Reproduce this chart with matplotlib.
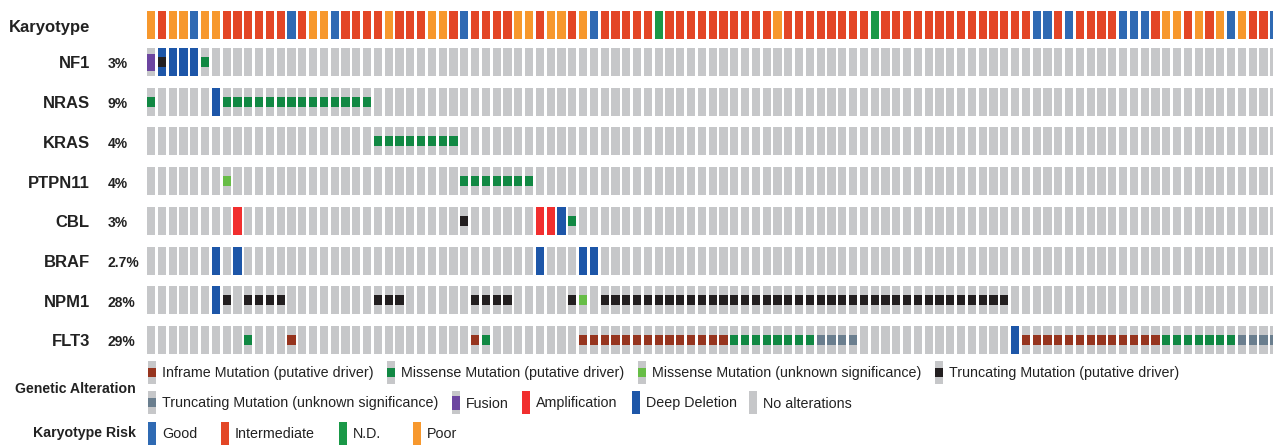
import matplotlib
matplotlib.use("Agg")
import matplotlib.pyplot as plt
from matplotlib.patches import Rectangle

plt.rcParams["font.family"] = ["Liberation Sans", "DejaVu Sans"]

W, H = 1273, 445          # canvas in pixels
COL_PITCH = 10.8          # pixels per sample column
X0 = 147                  # left edge of first column

# karyotype risk per sample: G=Good, I=Intermediate, N=N.D., P=Poor
KARYOTYPE = ("PIPPGPPIII" "IIIGIPPGII" "IIPIIIPPIG" "IIIIPPIPPI" "PGIIIIINII"
             "IIIIIIIIPI" "IIIIIIINII" "IIIIIIIIII" "IIGGIGIIII" "GGGIPPIPIP"
             "GPIIG")
N_SAMPLES = len(KARYOTYPE)

GENES = ["NF1", "NRAS", "KRAS", "PTPN11", "CBL", "BRAF", "NPM1", "FLT3"]
FREQ = ["3%", "9%", "4%", "4%", "3%", "2.7%", "28%", "29%"]

# altered sample indices per gene and alteration type
NF1 = {"fusion": [0], "deep_del": [1, 2, 3, 4], "trunc_driver": [1],
       "missense_driver": [5]}
NRAS = {"deep_del": [6],
        "missense_driver": [0, 7, 8, 9, 10, 11, 12, 13, 14, 15, 16, 17, 18, 19, 20]}
KRAS = {"missense_driver": [21, 22, 23, 24, 25, 26, 27, 28]}
PTPN11 = {"missense_unknown": [7],
          "missense_driver": [29, 30, 31, 32, 33, 34, 35]}
CBL = {"amp": [8, 36, 37], "deep_del": [38], "trunc_driver": [29],
       "missense_driver": [39]}
BRAF = {"deep_del": [6, 8, 36, 40, 41]}
NPM1 = {"deep_del": [6], "missense_unknown": [40],
        "trunc_driver": [7, 9, 10, 11, 12, 21, 22, 23, 30, 31, 32, 33, 39,
                         42, 43, 44, 45, 46, 47, 48, 49, 50, 51, 52, 53, 54,
                         55, 56, 57, 58, 59, 60, 61, 62, 63, 64, 65, 66, 67,
                         68, 69, 70, 71, 72, 73, 74, 75, 76, 77, 78, 79]}
FLT3 = {"deep_del": [80],
        "inframe": [13, 30, 40, 41, 42, 43, 44, 45, 46, 47, 48, 49, 50, 51,
                    52, 53, 81, 82, 83, 84, 85, 86, 87, 88, 89, 90, 91, 92, 93],
        "missense_driver": [9, 31, 54, 55, 56, 57, 58, 59, 60, 61,
                            94, 95, 96, 97, 98, 99, 100],
        "trunc_unknown": [62, 63, 64, 65, 101, 102, 103, 104]}
ALTERATIONS = [NF1, NRAS, KRAS, PTPN11, CBL, BRAF, NPM1, FLT3]

GRAY = "#C6C7C9"
KARYO_COLORS = {"G": "#2F6AB3", "I": "#E34626", "N": "#1A9847", "P": "#F7982D"}
# colour, vertical offset and height as fractions of the cell
STYLE = {
    "deep_del":         ("#1D56A8", 0.0, 1.0),
    "amp":              ("#F12E2E", 0.0, 1.0),
    "fusion":           ("#6C45A0", 0.21, 0.61),
    "inframe":          ("#96341E", 0.32, 0.36),
    "missense_driver":  ("#118843", 0.32, 0.36),
    "missense_unknown": ("#67BD46", 0.32, 0.36),
    "trunc_driver":     ("#231F20", 0.32, 0.36),
    "trunc_unknown":    ("#6A7E8E", 0.32, 0.36),
}
DRAW_ORDER = ["deep_del", "amp", "fusion", "inframe", "missense_driver",
              "missense_unknown", "trunc_driver", "trunc_unknown"]

ROW_H = 28
KARYO_TOP = 11
GENE_TOP = 48
GENE_PITCH = 39.7
BAR_W = 0.75

fig = plt.figure(figsize=(W / 100, H / 100), dpi=100)

# overlay in pixel coordinates for labels and legend
lax = fig.add_axes([0, 0, 1, 1])
lax.set_xlim(0, W)
lax.set_ylim(H, 0)
lax.axis("off")

# oncoprint: x in sample columns, y in pixels
ax = fig.add_axes([X0 / W, 0, (W - X0) / W, 1])
ax.set_xlim(0, (W - X0) / COL_PITCH)
ax.set_ylim(H, 0)
ax.axis("off")

cols = list(range(N_SAMPLES))
ax.bar(cols, ROW_H, bottom=KARYO_TOP, width=BAR_W, align="edge",
       color=[KARYO_COLORS[k] for k in KARYOTYPE], linewidth=0)

for k, (gene, alts) in enumerate(zip(GENES, ALTERATIONS)):
    top = GENE_TOP + GENE_PITCH * k
    ax.bar(cols, ROW_H, bottom=top, width=BAR_W, align="edge",
           color=GRAY, linewidth=0)
    for kind in DRAW_ORDER:
        if kind not in alts:
            continue
        color, off, frac = STYLE[kind]
        ax.bar(alts[kind], ROW_H * frac, bottom=top + ROW_H * off,
               width=BAR_W, align="edge", color=color, linewidth=0)

    base = top + ROW_H / 2 + 6.5
    lax.text(90, base, gene, ha="right", va="baseline", fontsize=12,
             fontweight="bold", color="#222222")
    lax.text(108, base, FREQ[k], ha="left", va="baseline", fontsize=10,
             fontweight="bold", color="#222222")

lax.text(90, KARYO_TOP + ROW_H / 2 + 7, "Karyotype", ha="right",
         va="baseline", fontsize=12, fontweight="bold", color="#222222")

# legend
LEG_H = 23
LEG_W = 8


def legend_item(x, top, label, kind=None, solid=None):
    if solid is not None:
        lax.add_patch(Rectangle((x, top), LEG_W, LEG_H, color=solid, lw=0))
    else:
        lax.add_patch(Rectangle((x, top), LEG_W, LEG_H, color=GRAY, lw=0))
        if kind is not None:
            color, off, frac = STYLE[kind]
            lax.add_patch(Rectangle((x, top + LEG_H * off), LEG_W,
                                    LEG_H * frac, color=color, lw=0))
    lax.text(x + 14, top + LEG_H / 2 + 1, label, ha="left", va="center",
             fontsize=10.3, color="#222222")


row1 = [("Inframe Mutation (putative driver)", "inframe", 148),
        ("Missense Mutation (putative driver)", "missense_driver", 387),
        ("Missense Mutation (unknown significance)", "missense_unknown", 638),
        ("Truncating Mutation (putative driver)", "trunc_driver", 935)]
row2 = [("Truncating Mutation (unknown significance)", "trunc_unknown", 148),
        ("Fusion", "fusion", 452),
        ("Amplification", "amp", 522),
        ("Deep Deletion", "deep_del", 632),
        ("No alterations", None, 749)]
row3 = [("Good", "G", 148), ("Intermediate", "I", 221),
        ("N.D.", "N", 339), ("Poor", "P", 413)]

for label, kind, x in row1:
    legend_item(x, 361, label, kind)
for label, kind, x in row2:
    legend_item(x, 391, label, kind)
for label, key, x in row3:
    legend_item(x, 422, label, solid=KARYO_COLORS[key])

lax.text(136, 389, "Genetic Alteration", ha="right", va="center",
         fontsize=10.2, fontweight="bold", color="#222222")
lax.text(136, 433, "Karyotype Risk", ha="right", va="center",
         fontsize=10.2, fontweight="bold", color="#222222")

fig.savefig("out.png", dpi=100)
